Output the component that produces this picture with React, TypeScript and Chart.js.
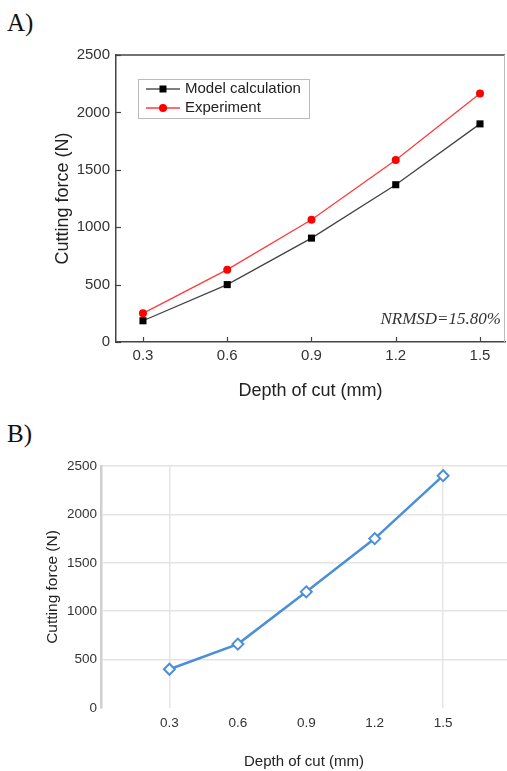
import React, { useEffect, useRef } from "react";
import { Chart, registerables } from "chart.js";

Chart.register(...registerables);

// ---------- Data ----------
const depthA = [0.3, 0.6, 0.9, 1.2, 1.5];
const modelCalculation = [185, 500, 905, 1370, 1900];
const experiment = [250, 630, 1065, 1585, 2165];
const depthB = [0.3, 0.6, 0.9, 1.2, 1.5];
const cuttingForceB = [400, 660, 1200, 1750, 2400];
const xTickValues = [0.3, 0.6, 0.9, 1.2, 1.5];
const yTickValues = [0, 500, 1000, 1500, 2000, 2500];
const seriesLabels = ["Model calculation", "Experiment"];
const nrmsdLabel = "NRMSD=15.80%";
const xTitle = "Depth of cut (mm)";
const yTitle = "Cutting force (N)";

const SANS = "'Liberation Sans', Arial, sans-serif";
const SERIF = "'Liberation Serif', 'Times New Roman', serif";

const toPoints = (xs: number[], ys: number[]) => xs.map((x, i) => ({ x, y: ys[i] }));

const setTicks = (vals: number[]) => (scale: any) => {
  scale.ticks = vals.map((v) => ({ value: v }));
};

const plainNum = (v: any) => String(v);
const oneDec = (v: any) => Number(v).toFixed(1);

// Plugin for chart A: frame, inward ticks, legend box, annotation
const frameA = {
  id: "frameA",
  afterDraw(chart: any) {
    const { ctx, chartArea, scales } = chart;
    const { left, right, top, bottom } = chartArea;
    ctx.save();
    // top border
    ctx.strokeStyle = "#444";
    ctx.lineWidth = 1.5;
    ctx.beginPath();
    ctx.moveTo(left, top);
    ctx.lineTo(right, top);
    ctx.stroke();
    // right border (light)
    ctx.strokeStyle = "#bbb";
    ctx.lineWidth = 1;
    ctx.beginPath();
    ctx.moveTo(right - 0.5, top);
    ctx.lineTo(right - 0.5, bottom);
    ctx.stroke();
    // inward ticks
    ctx.strokeStyle = "#444";
    ctx.lineWidth = 1.2;
    xTickValues.forEach((v) => {
      const px = Math.round(scales.x.getPixelForValue(v)) + 0.5;
      ctx.beginPath();
      ctx.moveTo(px, bottom);
      ctx.lineTo(px, bottom - 5);
      ctx.stroke();
    });
    yTickValues.forEach((v) => {
      const py = Math.round(scales.y.getPixelForValue(v)) + 0.5;
      ctx.beginPath();
      ctx.moveTo(left, py);
      ctx.lineTo(left + 5, py);
      ctx.stroke();
    });
    // legend
    const lx = 138, ly = 39, lw = 171, lh = 39;
    ctx.strokeStyle = "#bbb";
    ctx.lineWidth = 1;
    ctx.strokeRect(lx + 0.5, ly + 0.5, lw, lh);
    const rows = [
      { y: 49, line: "#555", mark: "#000", style: "rect" },
      { y: 68, line: "#ff3b3b", mark: "#ff0000", style: "circle" },
    ];
    rows.forEach((r, i) => {
      ctx.strokeStyle = r.line;
      ctx.lineWidth = 1.3;
      ctx.beginPath();
      ctx.moveTo(146, r.y);
      ctx.lineTo(180, r.y);
      ctx.stroke();
      ctx.fillStyle = r.mark;
      if (r.style === "rect") {
        ctx.fillRect(163 - 3.5, r.y - 3.5, 7, 7);
      } else {
        ctx.beginPath();
        ctx.arc(163, r.y, 4, 0, Math.PI * 2);
        ctx.fill();
      }
      ctx.fillStyle = "#222";
      ctx.font = `15px ${SANS}`;
      ctx.textBaseline = "middle";
      ctx.textAlign = "left";
      ctx.fillText(seriesLabels[i], 185, r.y);
    });
    // annotation
    ctx.fillStyle = "#333";
    ctx.font = `italic 17px ${SERIF}`;
    ctx.textAlign = "right";
    ctx.textBaseline = "middle";
    ctx.fillText(nrmsdLabel, 501, 280);
    ctx.restore();
  },
};

export default function App() {
  const refA = useRef<HTMLCanvasElement>(null);
  const refB = useRef<HTMLCanvasElement>(null);

  useEffect(() => {
    const chartA = new Chart(refA.current as HTMLCanvasElement, {
      type: "line",
      data: {
        datasets: [
          {
            label: seriesLabels[0],
            data: toPoints(depthA, modelCalculation),
            borderColor: "#444",
            borderWidth: 1.3,
            pointStyle: "rect",
            pointRadius: 5,
            pointBackgroundColor: "#000",
            pointBorderColor: "#000",
            pointBorderWidth: 0,
          },
          {
            label: seriesLabels[1],
            data: toPoints(depthA, experiment),
            borderColor: "#ff3b3b",
            borderWidth: 1.3,
            pointStyle: "circle",
            pointRadius: 4,
            pointBackgroundColor: "#ff0000",
            pointBorderColor: "#ff0000",
            pointBorderWidth: 0,
          },
        ],
      },
      options: {
        responsive: false,
        devicePixelRatio: 1,
        animation: false,
        layout: { autoPadding: false, padding: { left: 0, right: 2, top: 15, bottom: 0 } },
        plugins: { legend: { display: false }, tooltip: { enabled: false } },
        scales: {
          x: {
            type: "linear",
            min: 0.204,
            max: 1.589,
            afterBuildTicks: setTicks(xTickValues),
            afterFit: (s: any) => { s.height = 68; s.paddingLeft = 0; s.paddingRight = 0; },
            grid: { drawOnChartArea: false, drawTicks: false },
            border: { color: "#444", width: 1.5 },
            ticks: { padding: 5, color: "#333", font: { family: SANS, size: 15 }, callback: oneDec },
            title: { display: true, text: xTitle, color: "#222", font: { family: SANS, size: 18 }, padding: { top: 0, bottom: 8 } },
          },
          y: {
            type: "linear",
            min: 0,
            max: 2500,
            afterBuildTicks: setTicks(yTickValues),
            afterFit: (s: any) => { s.width = 116; },
            grid: { drawOnChartArea: false, drawTicks: false },
            border: { color: "#444", width: 1.5 },
            ticks: { padding: 6, color: "#333", font: { family: SANS, size: 15 }, callback: plainNum },
            title: { display: true, text: yTitle, color: "#222", font: { family: SANS, size: 18 }, padding: { top: 52, bottom: 0 } },
          },
        },
      },
      plugins: [frameA],
    } as any);

    const chartB = new Chart(refB.current as HTMLCanvasElement, {
      type: "line",
      data: {
        datasets: [
          {
            label: "Cutting force",
            data: toPoints(depthB, cuttingForceB),
            borderColor: "#4a8fd8",
            borderWidth: 2.5,
            pointStyle: "rectRot",
            pointRadius: 5.5,
            pointBackgroundColor: "#ffffff",
            pointBorderColor: "#4a8fd8",
            pointBorderWidth: 2,
          },
        ],
      },
      options: {
        responsive: false,
        devicePixelRatio: 1,
        animation: false,
        layout: { autoPadding: false, padding: { left: 0, right: 0, top: 26, bottom: 0 } },
        plugins: { legend: { display: false }, tooltip: { enabled: false } },
        scales: {
          x: {
            type: "linear",
            min: 0,
            max: 1.78,
            afterBuildTicks: setTicks(xTickValues),
            afterFit: (s: any) => { s.height = 63; s.paddingLeft = 0; s.paddingRight = 0; },
            grid: {
              drawTicks: false,
              lineWidth: 1.5,
              color: (c: any) => (c.tick && (c.tick.value === 0.3 || c.tick.value === 1.5) ? "#e6e6e6" : "rgba(0,0,0,0)"),
            },
            border: { display: false },
            ticks: { padding: 7, color: "#333", font: { family: SANS, size: 13.5 }, callback: oneDec },
            title: { display: true, text: xTitle, color: "#222", font: { family: SANS, size: 15 }, padding: { top: 0, bottom: 0 } },
          },
          y: {
            type: "linear",
            min: 0,
            max: 2500,
            afterBuildTicks: setTicks(yTickValues),
            afterFit: (s: any) => { s.width = 101; },
            grid: {
              drawTicks: false,
              lineWidth: 1.5,
              color: (c: any) => (c.tick && c.tick.value === 0 ? "rgba(0,0,0,0)" : "#e3e3e3"),
            },
            border: { color: "#cfcfcf", width: 2.5 },
            ticks: { padding: 4, color: "#333", font: { family: SANS, size: 13.5 }, callback: plainNum },
            title: { display: true, text: yTitle, color: "#222", font: { family: SANS, size: 15.5 }, padding: { top: 43.5, bottom: 0 } },
          },
        },
      },
    } as any);

    return () => {
      chartA.destroy();
      chartB.destroy();
    };
  }, []);

  const labelStyle: React.CSSProperties = {
    position: "absolute",
    left: 7,
    fontFamily: SERIF,
    fontSize: 25,
    lineHeight: "25px",
    color: "#111",
    margin: 0,
  };

  return (
    <div style={{ position: "absolute", left: 0, top: 0, width: 507, height: 771, background: "#fff", overflow: "hidden" }}>
      <div style={{ ...labelStyle, top: 10 }}>A)</div>
      <canvas ref={refA} width={507} height={370} style={{ position: "absolute", left: 0, top: 40 }} />
      <div style={{ ...labelStyle, top: 421 }}>B)</div>
      <canvas ref={refB} width={507} height={331} style={{ position: "absolute", left: 0, top: 440 }} />
    </div>
  );
}
